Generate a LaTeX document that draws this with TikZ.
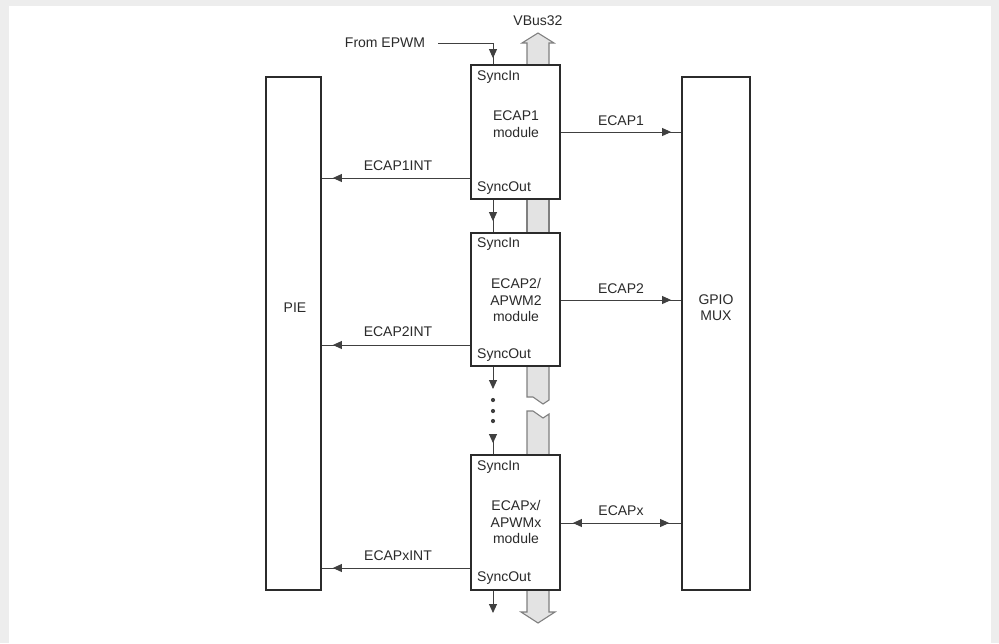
\documentclass[tikz,border=0pt]{standalone}
\usepackage{fontspec}
\setmainfont{Liberation Sans}
\usetikzlibrary{arrows.meta,decorations.markings}
\definecolor{ink}{HTML}{2B2B2B}
\definecolor{wirec}{HTML}{404040}
\definecolor{busfill}{HTML}{E3E3E3}
\definecolor{busline}{HTML}{808080}
\definecolor{txt}{HTML}{2A2A2A}
\definecolor{edge}{HTML}{EDEDED}
\begin{document}
\begin{tikzpicture}[x=1pt,y=-1pt,
  lbl/.style={font=\fontsize{14}{16.5}\selectfont, text=txt, inner sep=0pt, align=center},
  blk/.style={draw=ink, line width=1.8pt, fill=white, inner sep=0pt},
  wire/.style={draw=wirec, line width=0.9pt},
  endtip/.style={-{Triangle[length=9pt,width=8pt]}},
  tipat/.style={postaction={decorate}, decoration={markings, mark=at position #1 with {\arrow{Triangle[length=9pt,width=8pt]}}}},
  tipboth/.style={postaction={decorate}, decoration={markings,
     mark=at position #1 with {\arrowreversed{Triangle[length=9pt,width=8pt]}},
     mark=at position -#1 with {\arrow{Triangle[length=9pt,width=8pt]}}}},
  busf/.style={fill=busfill},
  busd/.style={draw=busline, line width=1.1pt, line join=miter},
]
\useasboundingbox (0,0) rectangle (999,643);
\fill[white] (0,0) rectangle (999,643);
\fill[edge] (0,0) rectangle (999,6);
\fill[edge] (0,0) rectangle (9,643);
\fill[edge] (991,0) rectangle (999,643);

% ---- bus (VBus32) ----
\path[busf] (527,66) -- (527,43) -- (522,43) -- (538,33) -- (554,43) -- (549,43) -- (549,66) -- cycle;
\draw[busd] (527,66) -- (527,43) -- (522,43) -- (538,33) -- (554,43) -- (549,43) -- (549,66);
\path[busf] (527,199) rectangle (549,233);
\draw[busd] (527,199) -- (527,233) (549,199) -- (549,233);
\path[busf] (527,366) -- (527,397) -- (533,397) -- (543,404) -- (549,400) -- (549,366) -- cycle;
\draw[busd] (527,366) -- (527,397) -- (533,397) -- (543,404) -- (549,400) -- (549,366);
\path[busf] (527,455) -- (527,411) -- (533,411) -- (543,418) -- (549,414) -- (549,455) -- cycle;
\draw[busd] (527,455) -- (527,411) -- (533,411) -- (543,418) -- (549,414) -- (549,455);
\path[busf] (527,590) -- (527,612) -- (521,612) -- (538,623) -- (555,612) -- (549,612) -- (549,590) -- cycle;
\draw[busd] (527,590) -- (527,612) -- (521,612) -- (538,623) -- (555,612) -- (549,612) -- (549,590);

% ---- blocks ----
\node[blk, minimum width=55pt, minimum height=513pt] (pie) at (293.5,333.5) {};
\node[blk, minimum width=68pt, minimum height=513pt] (gpio) at (716,333.5) {};
\node[blk, minimum width=89pt, minimum height=134pt] (e1) at (515.5,132) {};
\node[blk, minimum width=89pt, minimum height=133pt] (e2) at (515.5,299.5) {};
\node[blk, minimum width=89pt, minimum height=135pt] (ex) at (515.5,522.5) {};

\node[lbl] (pietxt) at (295,308) {PIE};
\node[lbl] (gpiotxt) at (716,307.5) {GPIO\\MUX};
\node[lbl] (e1txt) at (516,124) {ECAP1\\module};
\node[lbl] (e2txt) at (516,300) {ECAP2/\\APWM2\\module};
\node[lbl] (extxt) at (516,522) {ECAPx/\\APWMx\\module};

\node[lbl, anchor=west] (si1) at (477,77) {SyncIn};
\node[lbl, anchor=west] (si2) at (477,244) {SyncIn};
\node[lbl, anchor=west] (si3) at (477,467) {SyncIn};
\node[lbl, anchor=west] (so1) at (477,188) {SyncOut};
\node[lbl, anchor=west] (so2) at (477,355) {SyncOut};
\node[lbl, anchor=west] (so3) at (477,578) {SyncOut};

\node[lbl] (vbus) at (538,21) {VBus32};
\node[lbl] (epwm) at (385,43) {From EPWM};

% ---- sync chain ----
\coordinate (fe) at (438,43);
\coordinate (sx) at (493,0);
\draw[wire, tipat=-6pt] (fe) -| (sx |- e1.north);
\draw[wire, tipat=-11pt] (sx |- e1.south) -- (sx |- e2.north);
\coordinate (d1) at (493,389);
\draw[wire, endtip] (sx |- e2.south) -- (d1);
\fill[wirec] (493,400) circle (2.1pt) (493,411) circle (2.1pt) (493,421) circle (2.1pt);
\coordinate (d2) at (493,434);
\draw[wire, tipat=9pt] (d2) -- (sx |- ex.north);
\coordinate (dend) at (493,613);
\draw[wire, endtip] (sx |- ex.south) -- (dend);

% ---- outputs to GPIO MUX ----
\coordinate (y1) at (0,132);
\coordinate (y2) at (0,300);
\coordinate (y3) at (0,523);
\draw[wire, tipat=-10pt] (e1.east |- y1) -- (gpio.west |- y1);
\draw[wire, tipat=-10pt] (e2.east |- y2) -- (gpio.west |- y2);
\draw[wire, tipboth=12pt] (ex.east |- y3) -- (gpio.west |- y3);
\node[lbl] (l1) at (621,121) {ECAP1};
\node[lbl] (l2) at (621,289) {ECAP2};
\node[lbl] (l3) at (621,511) {ECAPx};

% ---- interrupts to PIE ----
\coordinate (i1) at (0,178);
\coordinate (i2) at (0,345);
\coordinate (i3) at (0,568);
\draw[wire, tipat=-11pt] (e1.west |- i1) -- (pie.east |- i1);
\draw[wire, tipat=-11pt] (e2.west |- i2) -- (pie.east |- i2);
\draw[wire, tipat=-11pt] (ex.west |- i3) -- (pie.east |- i3);
\node[lbl] (n1) at (398,166) {ECAP1INT};
\node[lbl] (n2) at (398,332) {ECAP2INT};
\node[lbl] (n3) at (398,556) {ECAPxINT};
\end{tikzpicture}
\end{document}
